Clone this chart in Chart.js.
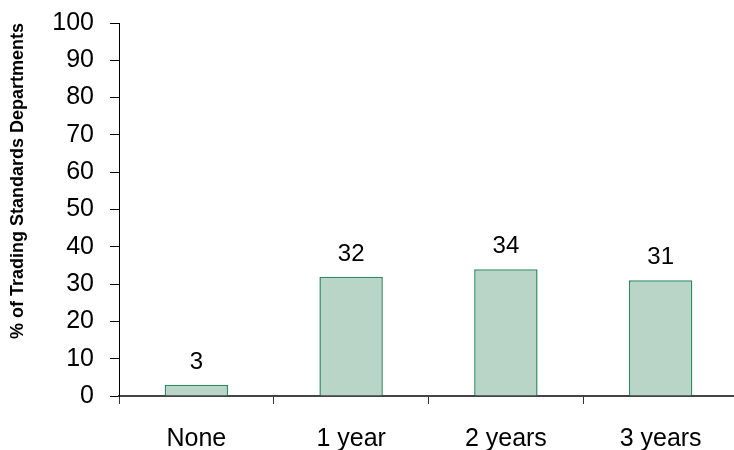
<!DOCTYPE html>
<html>
<head>
<meta charset="utf-8">
<script src="https://cdn.jsdelivr.net/npm/chart.js@4/dist/chart.umd.min.js"></script>
<style>
  html, body { margin: 0; padding: 0; background: #ffffff; overflow: hidden; }
  #wrap { width: 740px; height: 450px; overflow: hidden; }
  #chart { display: block; margin-top: -8px; }
</style>
</head>
<body>
<div id="wrap"><canvas id="chart" width="740" height="458"></canvas></div>
<script>
// Length of time on the register
const categories = ['None', '1 year', '2 years', '3 years'];
const shares = [3, 32, 34, 31];
const yTicks = [0, 10, 20, 30, 40, 50, 60, 70, 80, 90, 100];
const yTitle = '% of Trading Standards Departments';

const FONT = '"Liberation Sans", Arial, sans-serif';

// value labels above each bar
const valueLabels = {
  id: 'valueLabels',
  afterDatasetsDraw(chart) {
    const ctx = chart.ctx;
    const meta = chart.getDatasetMeta(0);
    ctx.save();
    ctx.font = '24px ' + FONT;
    ctx.fillStyle = '#000000';
    ctx.textAlign = 'center';
    ctx.textBaseline = 'alphabetic';
    meta.data.forEach((bar, i) => {
      ctx.fillText(String(shares[i]), bar.x, bar.y - 16);
    });
    ctx.restore();
  }
};

new Chart(document.getElementById('chart'), {
  type: 'bar',
  data: {
    labels: categories,
    datasets: [{
      data: shares,
      backgroundColor: '#b9d5c8',
      borderColor: '#2e8a60',
      borderWidth: 1.5,
      barPercentage: 0.41,
      categoryPercentage: 1.0
    }]
  },
  options: {
    responsive: false,
    animation: false,
    layout: { padding: { top: 0, right: 2, bottom: 0, left: 0 } },
    plugins: { legend: { display: false }, tooltip: { enabled: false } },
    scales: {
      x: {
        grid: {
          offset: true,
          drawOnChartArea: false,
          drawTicks: true,
          tickLength: 8,
          color: '#333333',
          lineWidth: 1
        },
        border: { display: true, color: '#444444', width: 2 },
        ticks: {
          color: '#000000',
          font: { family: FONT, size: 25 },
          padding: 20
        },
        afterFit(scale) { scale.height = 54; }
      },
      y: {
        min: 0,
        max: 100,
        afterBuildTicks(scale) { scale.ticks = yTicks.map(v => ({ value: v })); },
        grid: {
          drawOnChartArea: false,
          drawTicks: true,
          tickLength: 9,
          color: '#000000',
          lineWidth: 1
        },
        border: { display: true, color: '#000000', width: 1 },
        ticks: {
          color: '#000000',
          font: { family: FONT, size: 25 },
          padding: 16
        },
        title: {
          display: true,
          text: yTitle,
          align: 'end',
          color: '#000000',
          font: { family: FONT, size: 18, weight: 'bold' },
          padding: { top: 7, bottom: 0 }
        },
        afterFit(scale) { scale.width = 119; }
      }
    }
  },
  plugins: [valueLabels]
});
</script>
</body>
</html>
